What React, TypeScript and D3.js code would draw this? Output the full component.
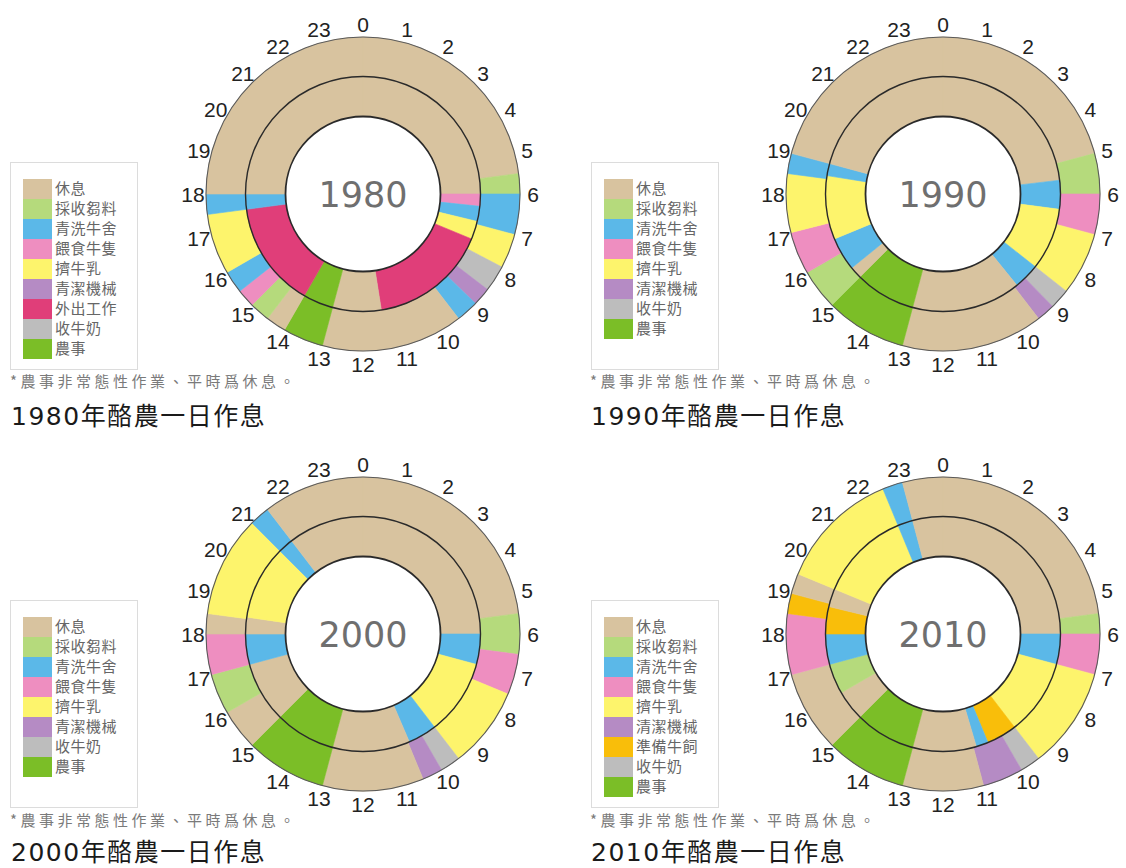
import React from "react";
import * as d3 from "d3";

// activity colours
const COLOR: Record<string, string> = {
	休息: "#d8c39f",
	採收芻料: "#b5da7c",
	清洗牛舍: "#5bb8e8",
	餵食牛隻: "#ee8ec0",
	擠牛乳: "#fdf46c",
	清潔機械: "#b58bc4",
	外出工作: "#e03e79",
	準備牛飼: "#f9be0a",
	收牛奶: "#bdbdbd",
	農事: "#7bbe27",
};

// [start hour, activity]; each segment runs until the next start (last one to 24)
const OUTER_1980: [number, string][] = [
	[0, "休息"], [5.5, "採收芻料"], [6, "清洗牛舍"], [7, "擠牛乳"], [7.85, "收牛奶"], [8.5, "清潔機械"],
	[8.95, "清洗牛舍"], [9.5, "休息"], [13, "農事"], [14, "休息"], [14.5, "採收芻料"], [15, "餵食牛隻"],
	[15.45, "清洗牛舍"], [16, "擠牛乳"], [17.5, "清洗牛舍"], [18, "休息"],
];
const INNER_1980: [number, string][] = [
	[0, "休息"], [6, "餵食牛隻"], [6.4, "清洗牛舍"], [6.9, "擠牛乳"], [7.5, "外出工作"], [11.4, "休息"],
	[13, "農事"], [14, "外出工作"], [17.5, "清洗牛舍"], [18, "休息"],
];
const OUTER_1990: [number, string][] = [
	[0, "休息"], [5, "採收芻料"], [6, "餵食牛隻"], [7, "擠牛乳"], [8.55, "收牛奶"], [9.05, "清潔機械"],
	[9.5, "休息"], [13, "農事"], [15, "採收芻料"], [16, "餵食牛隻"], [17.05, "擠牛乳"], [18.5, "清洗牛舍"], [19, "休息"],
];
const INNER_1990: [number, string][] = [
	[0, "休息"], [5.55, "清洗牛舍"], [6.5, "擠牛乳"], [8.55, "清洗牛舍"], [9.4, "休息"], [13, "農事"],
	[15, "休息"], [15.4, "清洗牛舍"], [16.5, "擠牛乳"], [18.6, "清洗牛舍"], [19, "休息"],
];
const OUTER_2000: [number, string][] = [
	[0, "休息"], [5.5, "採收芻料"], [6.5, "餵食牛隻"], [7.5, "擠牛乳"], [9.5, "收牛奶"], [10, "清潔機械"],
	[10.5, "休息"], [13, "農事"], [15, "休息"], [16, "採收芻料"], [17, "餵食牛隻"], [18, "休息"],
	[18.5, "擠牛乳"], [21, "清洗牛舍"], [21.5, "休息"],
];
const INNER_2000: [number, string][] = [
	[0, "休息"], [6, "清洗牛舍"], [7, "擠牛乳"], [9.5, "清洗牛舍"], [10.45, "休息"], [13, "農事"],
	[15, "休息"], [17, "清洗牛舍"], [18, "休息"], [18.55, "擠牛乳"], [21, "清洗牛舍"], [21.5, "休息"],
];
const OUTER_2010: [number, string][] = [
	[0, "休息"], [5.5, "採收芻料"], [6, "餵食牛隻"], [7, "擠牛乳"], [9.5, "收牛奶"], [10, "清潔機械"],
	[11, "休息"], [13, "農事"], [15, "休息"], [17, "餵食牛隻"], [18.5, "準備牛飼"], [19, "休息"],
	[19.5, "擠牛乳"], [22.5, "清洗牛舍"], [23, "休息"],
];
const INNER_2010: [number, string][] = [
	[0, "休息"], [6, "清洗牛舍"], [7, "擠牛乳"], [9.5, "準備牛飼"], [10.5, "清洗牛舍"], [10.9, "休息"],
	[13, "農事"], [15, "休息"], [16, "採收芻料"], [17, "清洗牛舍"], [18, "準備牛飼"], [18.9, "休息"],
	[19.5, "擠牛乳"], [22.5, "清洗牛舍"], [23, "休息"],
];

// legend entries as printed in each panel
const LEGEND_1980 = ["休息", "採收芻料", "青洗牛舍", "餵食牛隻", "擠牛乳", "青潔機械", "外出工作", "收牛奶", "農事"];
const LEGEND_1990 = ["休息", "採收芻料", "清洗牛舍", "餵食牛隻", "擠牛乳", "清潔機械", "收牛奶", "農事"];
const LEGEND_2000 = ["休息", "採收芻料", "青洗牛舍", "餵食牛隻", "擠牛乳", "青潔機械", "收牛奶", "農事"];
const LEGEND_2010 = ["休息", "採收芻料", "清洗牛舍", "餵食牛隻", "擠牛乳", "清潔機械", "準備牛飼", "收牛奶", "農事"];

const HOURS = d3.range(24);
const NOTE = "*農事非常態性作業、平時爲休息。";
const TITLE_SUFFIX = "年酪農一日作息";

const R_OUT = 157;
const R_MID = 117.5;
const R_IN = 77.5;
const R_LABEL = 170;

const angle = d3.scaleLinear().domain([0, 24]).range([0, 2 * Math.PI]);
const arcGen = d3.arc<any>();

const colorOf = (name: string) => COLOR[name] ?? COLOR[name.replace(/^青/, "清")];

function toSegments(bounds: [number, string][]) {
	return bounds.map(([s, c], i) => ({
		start: s,
		end: i < bounds.length - 1 ? bounds[i + 1][0] : 24,
		cat: c,
	}));
}

function Ring({ data, r0, r1 }: { data: [number, string][]; r0: number; r1: number }) {
	return (
		<g>
			{toSegments(data).map((d, i) => (
				<path
					key={i}
					d={arcGen({ innerRadius: r0, outerRadius: r1, startAngle: angle(d.start), endAngle: angle(d.end) }) as string}
					fill={COLOR[d.cat]}
					stroke={COLOR[d.cat]}
					strokeWidth={0.6}
				/>
			))}
		</g>
	);
}

function Donut({ cx, cy, year, outer, inner }: { cx: number; cy: number; year: string; outer: [number, string][]; inner: [number, string][] }) {
	return (
		<g transform={`translate(${cx},${cy})`}>
			<Ring data={outer} r0={R_MID} r1={R_OUT} />
			<Ring data={inner} r0={R_IN} r1={R_MID} />
			<circle r={R_OUT} fill="none" stroke="#5a5a5a" strokeWidth={1.1} />
			<circle r={R_MID} fill="none" stroke="#2a2a2a" strokeWidth={1.4} />
			<circle r={R_IN} fill="#fff" stroke="#2a2a2a" strokeWidth={1.8} />
			<text y={0} dy="0.36em" textAnchor="middle" fontFamily="DejaVu Sans, Verdana, sans-serif" fontSize={35} fill="#6f6f6f">
				{year}
			</text>
			{HOURS.map((h) => (
				<text
					key={h}
					x={R_LABEL * Math.sin(angle(h))}
					y={-R_LABEL * Math.cos(angle(h))}
					dy="0.36em"
					textAnchor="middle"
					fontFamily="Liberation Sans, Arial, sans-serif"
					fontSize={21}
					fill="#222"
				>
					{h}
				</text>
			))}
		</g>
	);
}

function Legend({ x, y, items }: { x: number; y: number; items: string[] }) {
	return (
		<g transform={`translate(${x},${y})`}>
			<rect x={0.5} y={0.5} width={127} height={207} fill="#fff" stroke="#dcdcdc" strokeWidth={1} />
			{items.map((name, i) => (
				<g key={name} transform={`translate(13,${17 + i * 20})`}>
					<rect width={29} height={20} fill={colorOf(name)} />
					<text x={32} y={10} dy="0.36em" fontFamily="Noto Sans CJK TC, sans-serif" fontSize={15} fill="#666" letterSpacing={0.5}>
						{name}
					</text>
				</g>
			))}
		</g>
	);
}

function Captions({ x, y, year, titleGap }: { x: number; y: number; year: string; titleGap: number }) {
	return (
		<g>
			<text x={x} y={y} fontFamily="Noto Sans CJK TC, sans-serif" fontSize={15} fill="#7a7a7a" letterSpacing={3.5}>
				{NOTE}
			</text>
			<text x={x + 1} y={y + titleGap} fontFamily="DejaVu Sans, Noto Sans CJK TC, sans-serif" fontSize={25} fill="#1a1a1a" letterSpacing={1.5}>
				{year}
				{TITLE_SUFFIX}
			</text>
		</g>
	);
}

export default function App() {
	return (
		<svg
			width={1126}
			height={868}
			viewBox="0 0 1126 868"
			style={{ position: "absolute", left: 0, top: 0, display: "block", background: "#fff" }}
		>
			<rect width={1126} height={868} fill="#fff" />
			<Donut cx={363} cy={194} year="1980" outer={OUTER_1980} inner={INNER_1980} />
			<Donut cx={943} cy={194} year="1990" outer={OUTER_1990} inner={INNER_1990} />
			<Donut cx={363} cy={634} year="2000" outer={OUTER_2000} inner={INNER_2000} />
			<Donut cx={943} cy={634} year="2010" outer={OUTER_2010} inner={INNER_2010} />
			<Legend x={10} y={162} items={LEGEND_1980} />
			<Legend x={591} y={162} items={LEGEND_1990} />
			<Legend x={10} y={600} items={LEGEND_2000} />
			<Legend x={591} y={600} items={LEGEND_2010} />
			<Captions x={10} y={387} year="1980" titleGap={38} />
			<Captions x={590} y={387} year="1990" titleGap={38} />
			<Captions x={10} y={826} year="2000" titleGap={35} />
			<Captions x={590} y={826} year="2010" titleGap={35} />
		</svg>
	);
}
